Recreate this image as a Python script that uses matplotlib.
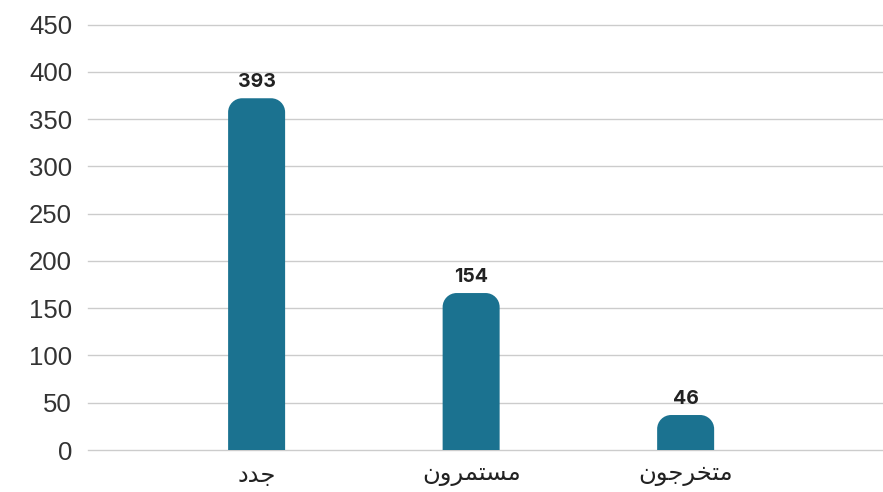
import matplotlib
matplotlib.use("Agg")
import matplotlib.pyplot as plt
from matplotlib.path import Path
from matplotlib.patches import PathPatch

# data
categories = ["جدد", "مستمرون", "متخرجون"]
value_labels = [393, 154, 46]
bar_heights = [372, 166, 37]  # drawn heights as they appear on the axis
y_ticks = [0, 50, 100, 150, 200, 250, 300, 350, 400, 450]

BAR_COLOR = "#1b7290"
GRID_COLOR = "#cccccc"

# presentation forms: (isolated, final, initial, medial); two-form letters do not join forward
FORMS = {
    "ج": ("\uFE9D", "\uFE9E", "\uFE9F", "\uFEA0"),
    "خ": ("\uFEA5", "\uFEA6", "\uFEA7", "\uFEA8"),
    "د": ("\uFEA9", "\uFEAA"),
    "ر": ("\uFEAD", "\uFEAE"),
    "س": ("\uFEB1", "\uFEB2", "\uFEB3", "\uFEB4"),
    "ت": ("\uFE95", "\uFE96", "\uFE97", "\uFE98"),
    "م": ("\uFEE1", "\uFEE2", "\uFEE3", "\uFEE4"),
    "و": ("\uFEED", "\uFEEE"),
    "ن": ("\uFEE5", "\uFEE6", "\uFEE7", "\uFEE8"),
}


def shape_arabic(word):
    """Very small Arabic shaper: pick contextual forms, return in visual order."""
    out = []
    n = len(word)
    for i, ch in enumerate(word):
        forms = FORMS[ch]
        prev_joins = i > 0 and len(FORMS[word[i - 1]]) == 4
        next_joins = i < n - 1 and len(forms) == 4
        if prev_joins and next_joins:
            out.append(forms[3])
        elif next_joins:
            out.append(forms[2])
        elif prev_joins:
            out.append(forms[1])
        else:
            out.append(forms[0])
    return "".join(reversed(out))


def rounded_bar(ax, x, width, height, rx, ry):
    """Bar with only its top corners rounded (radii in data units)."""
    x0, x1 = x - width / 2, x + width / 2
    rx = min(rx, width / 2)
    ry = min(ry, height)
    k = 0.5523
    verts = [
        (x0, 0), (x0, height - ry),
        (x0, height - ry + k * ry), (x0 + rx - k * rx, height), (x0 + rx, height),
        (x1 - rx, height),
        (x1 - rx + k * rx, height), (x1, height - ry + k * ry), (x1, height - ry),
        (x1, 0), (x0, 0),
    ]
    codes = [Path.MOVETO, Path.LINETO,
             Path.CURVE4, Path.CURVE4, Path.CURVE4,
             Path.LINETO,
             Path.CURVE4, Path.CURVE4, Path.CURVE4,
             Path.LINETO, Path.CLOSEPOLY]
    ax.add_patch(PathPatch(Path(verts, codes), facecolor=BAR_COLOR, edgecolor="none", zorder=3))


fig = plt.figure(figsize=(8.83, 4.92), dpi=100)
ax = fig.add_axes([88 / 883, 1 - 450 / 492, 1 - 88 / 883, (450 - 24.5) / 492])

xlim = (-0.786, 2.92)
ylim = (0, 450)
ax.set_xlim(*xlim)
ax.set_ylim(*ylim)

px_x = (883 - 88) / (xlim[1] - xlim[0])
px_y = (450 - 24.5) / (ylim[1] - ylim[0])
bar_w = 57 / px_x
radius = 14

for i, (h, lab) in enumerate(zip(bar_heights, value_labels)):
    rounded_bar(ax, i, bar_w, h, radius / px_x, radius / px_y)
    ax.text(i, h + 7 / px_y, str(lab), ha="center", va="bottom",
            fontsize=14, fontweight="bold", color="#222222",
            family=["Inter", "DejaVu Sans"])

ax.set_yticks(y_ticks)
ax.set_yticklabels([str(t) for t in y_ticks], family=["Liberation Sans", "DejaVu Sans"],
                   fontsize=18.5, color="#333333")
ax.set_xticks(range(len(categories)))
ax.set_xticklabels([shape_arabic(c) for c in categories], family=["DejaVu Sans"],
                   fontsize=17.5, color="#222222")
ax.tick_params(axis="both", length=0)
ax.tick_params(axis="y", pad=11.5)
ax.tick_params(axis="x", pad=9)

ax.grid(axis="y", color=GRID_COLOR, linewidth=1, zorder=0)
for line in ax.get_ygridlines():
    line.set_clip_on(False)
ax.set_axisbelow(True)
for s in ax.spines.values():
    s.set_visible(False)

fig.savefig("out.png", dpi=100)
